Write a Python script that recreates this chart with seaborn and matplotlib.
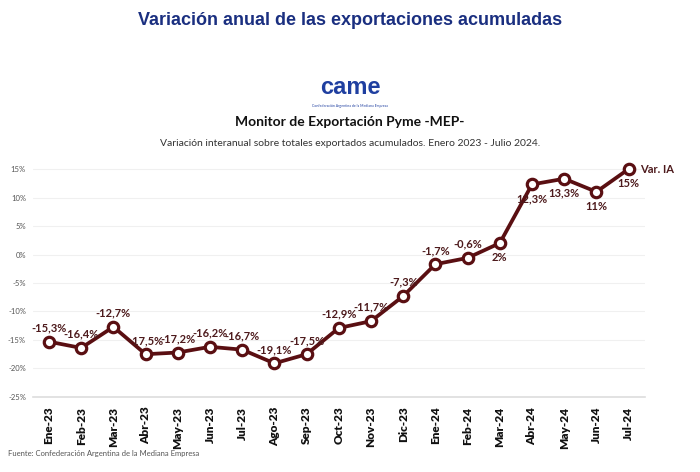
import numpy as np
import pandas as pd
import matplotlib
matplotlib.use("Agg")
import matplotlib.pyplot as plt
import seaborn as sns

meses = ["Ene-23", "Feb-23", "Mar-23", "Abr-23", "May-23", "Jun-23", "Jul-23",
         "Ago-23", "Sep-23", "Oct-23", "Nov-23", "Dic-23", "Ene-24", "Feb-24",
         "Mar-24", "Abr-24", "May-24", "Jun-24", "Jul-24"]
var_ia = [-15.3, -16.4, -12.7, -17.5, -17.2, -16.2, -16.7, -19.1, -17.5, -12.9,
          -11.7, -7.3, -1.7, -0.6, 2.0, 12.3, 13.3, 11.0, 15.0]
etiquetas = ["-15,3%", "-16,4%", "-12,7%", "-17,5%", "-17,2%", "-16,2%", "-16,7%",
             "-19,1%", "-17,5%", "-12,9%", "-11,7%", "-7,3%", "-1,7%", "-0,6%",
             "2%", "12,3%", "13,3%", "11%", "15%"]
y_ticks = [-25, -20, -15, -10, -5, 0, 5, 10, 15]

df = pd.DataFrame({"x": np.arange(len(meses)), "v": var_ia})

sns.set_theme(style="white")
plt.rcParams["font.family"] = ["Lato", "DejaVu Sans"]

maroon = "#5a0f12"
fig = plt.figure(figsize=(7, 4.72), dpi=100)
ax = fig.add_axes([0.047, 0.159, 0.874, 0.507])

sns.lineplot(data=df, x="x", y="v", ax=ax, color=maroon, linewidth=2.7,
             marker="o", markersize=7.5, markerfacecolor="white",
             markeredgecolor=maroon, markeredgewidth=2.3, zorder=3)

# labels: below for the last points, above otherwise
for i, (v, t) in enumerate(zip(var_ia, etiquetas)):
    below = v >= 2
    ax.annotate(t, (i, v), xytext=(0, -6.5 if below else 6), textcoords="offset points",
                ha="center", va="top" if below else "bottom",
                fontsize=8, fontweight="bold", color="#4d1a1c", zorder=4)
ax.annotate("Var. IA", (len(meses) - 1, var_ia[-1]), xytext=(8, 0),
            textcoords="offset points", ha="left", va="center",
            fontsize=8, fontweight="bold", color="#4d1a1c")

ax.set_xlim(-0.5, 18.5)
ax.set_ylim(-25, 17)
ax.set_yticks(y_ticks)
ax.set_yticklabels([f"{t}%" for t in y_ticks], fontsize=5.5, color="#555555")
ax.set_xticks(df["x"])
ax.set_xticklabels(meses, rotation=90, fontsize=8.5, fontweight="heavy", color="#111111")
ax.tick_params(axis="both", length=3, width=0.6, color="#bbbbbb", pad=2)
ax.tick_params(axis="x", pad=4)
ax.grid(axis="y", color="#f0f0f0", linewidth=0.8)
ax.set_xlabel("")
ax.set_ylabel("")
for s in ["top", "right", "left"]:
    ax.spines[s].set_visible(False)
ax.spines["bottom"].set_color("#dddddd")
ax.spines["bottom"].set_linewidth(1.2)

fig.text(0.5, 0.957, "Variación anual de las exportaciones acumuladas", ha="center", va="center",
         fontsize=13, fontweight="bold", color="#1a2f80", family="Liberation Sans")
fig.text(0.5, 0.815, "came", ha="center", va="center", fontsize=17, fontweight="bold",
         color="#1f3fa0", family="Liberation Sans")
fig.text(0.5, 0.775, "Confederación Argentina de la Mediana Empresa", ha="center", va="center",
         fontsize=2.5, color="#1f3fa0")
fig.text(0.5, 0.742, "Monitor de Exportación Pyme -MEP-", ha="center", va="center",
         fontsize=10, fontweight="bold", color="#111111")
fig.text(0.5, 0.697, "Variación interanual sobre totales exportados acumulados. Enero 2023 - Julio 2024.",
         ha="center", va="center", fontsize=7.5, color="#333333")
fig.text(0.012, 0.04, "Fuente: Confederación Argentina de la Mediana Empresa", ha="left", va="center",
         fontsize=5.5, color="#555555")

fig.savefig("out.png", dpi=100, facecolor="white")
